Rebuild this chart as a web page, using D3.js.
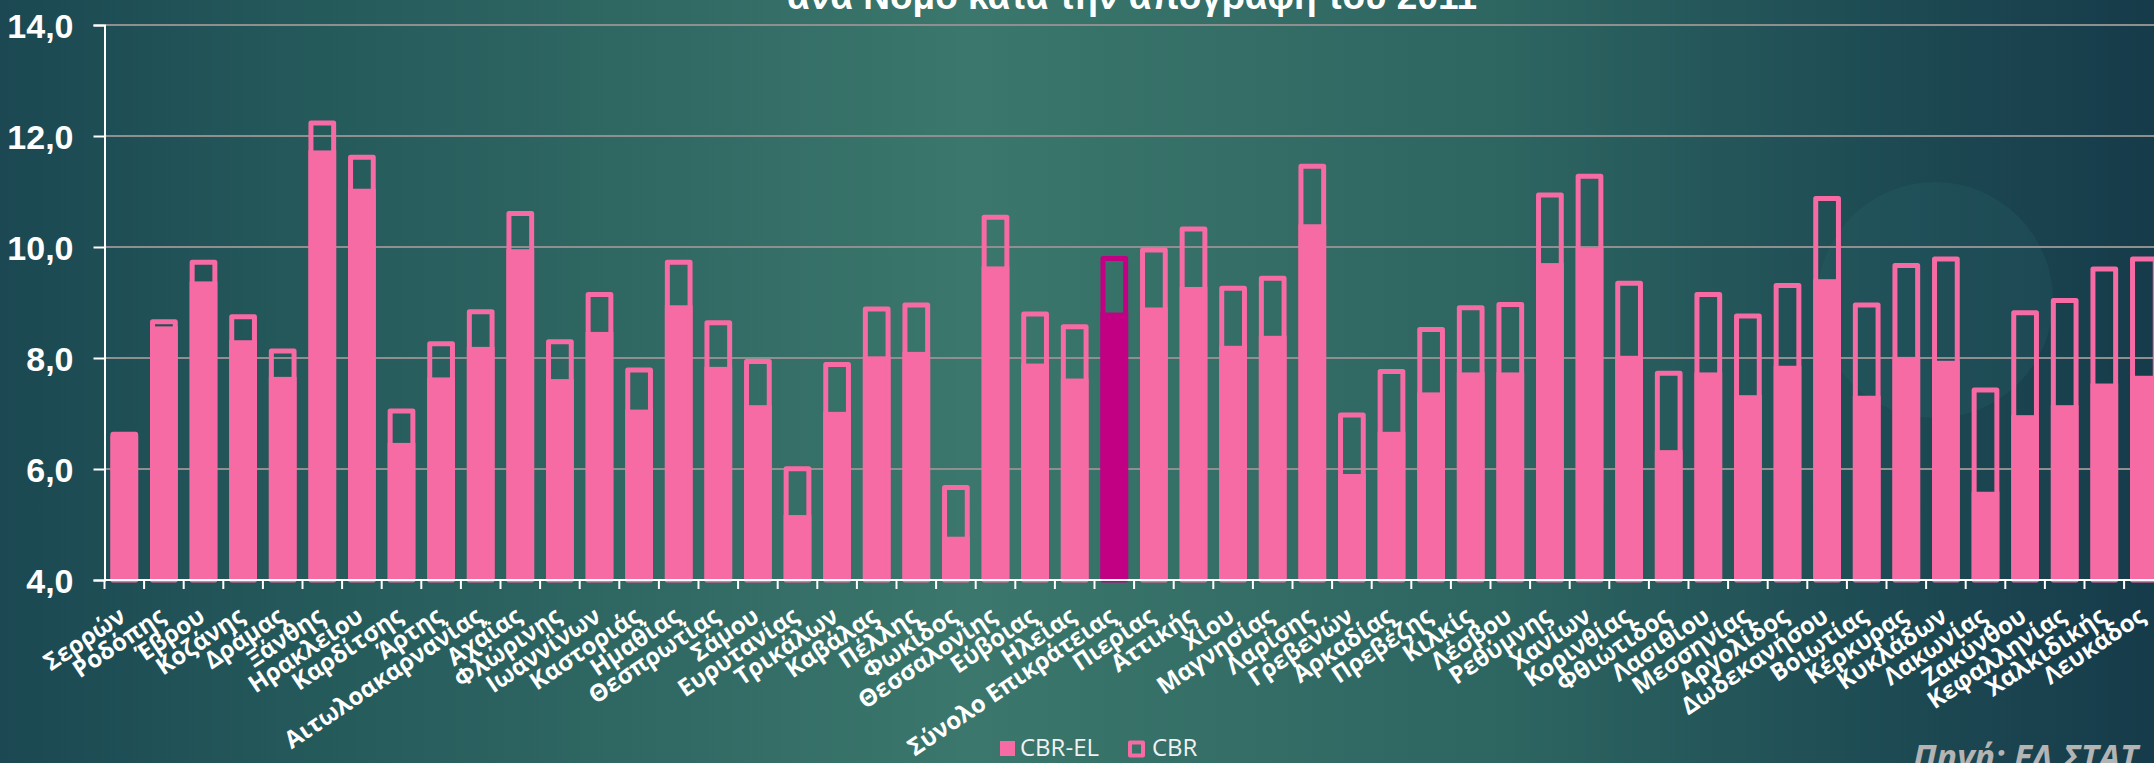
<!DOCTYPE html>
<html>
<head>
<meta charset="utf-8">
<script src="https://cdn.jsdelivr.net/npm/d3@7"></script>
<style>
  html, body { margin: 0; padding: 0; overflow: hidden; background: #1b4852; }
  svg { display: block; }
</style>
</head>
<body>
<div id="chart"></div>
<script>
// crude birth rate per prefecture, census 2011

const prefectures = [
    "Σερρών", "Ροδόπης", "Έβρου", "Κοζάνης", "Δράμας", "Ξάνθης", "Ηρακλείου", "Καρδίτσης",
    "Άρτης", "Αιτωλοακαρνανίας", "Αχαΐας", "Φλώρινης", "Ιωαννίνων", "Καστοριάς", "Ημαθίας",
    "Θεσπρωτίας", "Σάμου", "Ευρυτανίας", "Τρικάλων", "Καβάλας", "Πέλλης", "Φωκίδος",
    "Θεσσαλονίης", "Εύβοιας", "Ηλείας", "Σύνολο Επικράτειας", "Πιερίας", "Αττικής", "Χίου",
    "Μαγνησίας", "Λαρίσης", "Γρεβενών", "Αρκαδίας", "Πρεβέζης", "Κιλκίς", "Λέσβου",
    "Ρεθύμνης", "Χανίων", "Κορινθίας", "Φθιώτιδος", "Λασιθίου", "Μεσσηνίας", "Αργολίδος",
    "Δωδεκανήσου", "Βοιωτίας", "Κέρκυρας", "Κυκλάδων", "Λακωνίας", "Ζακύνθου",
    "Κεφαλληνίας", "Χαλκιδικής", "Λευκάδος"
];

const cbrEl = [
    6.60, 8.57, 9.38, 8.32, 7.66, 11.74, 11.05, 6.47,
    7.65, 8.20, 9.96, 7.62, 8.47, 7.07, 8.95,
    7.84, 7.15, 5.17, 7.03, 8.03, 8.11, 4.78,
    9.65, 7.90, 7.63, 8.82, 8.91, 9.28, 8.22,
    8.40, 10.41, 5.91, 6.67, 7.38, 7.74, 7.74,
    9.71, 9.99, 8.04, 6.34, 7.74, 7.33, 7.86,
    9.42, 7.32, 8.02, 7.95, 5.59, 6.97,
    7.15, 7.54, 7.68
];

const cbr = [
    6.67, 8.70, 9.77, 8.79, 8.17, 12.28, 11.66, 7.09,
    8.30, 8.88, 10.65, 8.34, 9.19, 7.83, 9.77,
    8.68, 7.98, 6.05, 7.93, 8.93, 9.00, 5.71,
    10.58, 8.84, 8.61, 9.84, 9.99, 10.37, 9.30,
    9.48, 11.50, 7.02, 7.80, 8.56, 8.95, 9.01,
    10.98, 11.32, 9.39, 7.77, 9.19, 8.80, 9.35,
    10.92, 9.00, 9.71, 9.83, 7.47, 8.86,
    9.08, 9.65, 9.83
];

const yTicks = [4, 6, 8, 10, 12, 14];
const seriesNames = ["CBR-EL", "CBR"];
const totalName = "Σύνολο Επικράτειας";
const titleText = "ανά Νομό κατά την απογραφή του 2011";
const sourceText = "Πηγή: ΕΛ.ΣΤΑΤ";

const width = 2154;
const height = 763;
const plotLeft = 104.5;
const bandStep = 39.6;
const plotTop = 25;
const plotBottom = 580;
const outlineWidth = 5;

const pink = "#f76ba4";
const magenta = "#c20084";

const locale = d3.formatLocale({ decimal: ",", thousands: ".", grouping: [3], currency: ["", "€"] });
const fmt = locale.format(".1f");

const data = prefectures.map((name, i) => ({ name: name, el: cbrEl[i], cbr: cbr[i] }));

const svg = d3.select("#chart")
    .append("svg")
    .attr("width", width)
    .attr("height", height);

const defs = svg.append("defs");
const bg = defs.append("linearGradient")
    .attr("id", "bg")
    .attr("x1", "0%").attr("x2", "100%")
    .attr("y1", "0%").attr("y2", "0%");
[
    [0, "#1b4852"], [0.15, "#255a5b"], [0.45, "#3b776c"],
    [0.7, "#2d6561"], [0.88, "#1d4a53"], [1, "#163b4a"]
].forEach(([o, c]) => bg.append("stop").attr("offset", o).attr("stop-color", c));

svg.append("rect")
    .attr("width", width)
    .attr("height", height)
    .attr("fill", "url(#bg)");

// faint decorative disc at the right
svg.append("circle")
    .attr("cx", 1935)
    .attr("cy", 300)
    .attr("r", 118)
    .attr("fill", "#2f6a6c")
    .attr("opacity", 0.22);

const x = d3.scaleBand()
    .domain(prefectures)
    .range([plotLeft, plotLeft + bandStep * prefectures.length])
    .paddingInner(0.3)
    .paddingOuter(0.15);

const y = d3.scaleLinear()
    .domain([4, 14])
    .range([plotBottom, plotTop]);

// gridlines
svg.append("g")
    .selectAll("line")
    .data(yTicks.slice(1))
    .enter()
    .append("line")
    .attr("x1", plotLeft)
    .attr("x2", width)
    .attr("y1", d => y(d))
    .attr("y2", d => y(d))
    .attr("stroke", "#8f8f8f")
    .attr("stroke-width", 2);

// CBR-EL filled bars
svg.append("g")
    .selectAll("rect")
    .data(data)
    .enter()
    .append("rect")
    .attr("x", d => x(d.name))
    .attr("y", d => y(d.el))
    .attr("width", x.bandwidth())
    .attr("height", d => y(4) - y(d.el))
    .attr("fill", d => d.name === totalName ? magenta : pink);

// CBR outlined bars on top
svg.append("g")
    .selectAll("rect")
    .data(data)
    .enter()
    .append("rect")
    .attr("x", d => x(d.name) + outlineWidth / 2)
    .attr("y", d => y(d.cbr) + outlineWidth / 2)
    .attr("width", x.bandwidth() - outlineWidth)
    .attr("height", d => y(4) - y(d.cbr) - outlineWidth / 2)
    .attr("fill", "none")
    .attr("stroke", d => d.name === totalName ? magenta : pink)
    .attr("stroke-width", outlineWidth)
    .attr("stroke-linejoin", "round");

// y axis
const yAxis = svg.append("g")
    .attr("transform", `translate(${plotLeft},0)`)
    .call(d3.axisLeft(y).tickValues(yTicks).tickFormat(fmt).tickSize(11).tickPadding(20));
yAxis.select(".domain").attr("stroke", "#ffffff").attr("stroke-width", 2);
yAxis.selectAll(".tick line").attr("stroke", "#ffffff").attr("stroke-width", 2);
yAxis.selectAll(".tick text")
    .attr("fill", "#ffffff")
    .attr("font-family", "'Liberation Sans Narrow', 'Liberation Sans', Arial, sans-serif")
    .attr("font-weight", "bold")
    .attr("font-size", 34)
    .attr("dy", "0.36em");

// x axis: line plus ticks at band boundaries
const xAxis = svg.append("g");
xAxis.append("line")
    .attr("x1", plotLeft)
    .attr("x2", x.range()[1])
    .attr("y1", y(4))
    .attr("y2", y(4))
    .attr("stroke", "#ffffff")
    .attr("stroke-width", 2);

const boundaries = prefectures.map(p => x(p) - x.paddingOuter() * x.step()).concat([x.range()[1]]);
xAxis.selectAll(".xtick")
    .data(boundaries)
    .enter()
    .append("line")
    .attr("class", "xtick")
    .attr("x1", d => d)
    .attr("x2", d => d)
    .attr("y1", y(4))
    .attr("y2", y(4) + 9)
    .attr("stroke", "#ffffff")
    .attr("stroke-width", 2);

xAxis.selectAll(".xlabel")
    .data(prefectures)
    .enter()
    .append("text")
    .attr("class", "xlabel")
    .attr("transform", d => `translate(${x(d) + x.bandwidth() / 2 + 3},620) rotate(-34)`)
    .attr("text-anchor", "end")
    .attr("fill", "#ffffff")
    .attr("font-family", "'Open Sans', 'Noto Sans', sans-serif")
    .attr("font-weight", "bold")
    .attr("font-size", 24)
    .text(d => d);

// title (cut at the top edge)
svg.append("text")
    .attr("x", 1132)
    .attr("y", 9)
    .attr("text-anchor", "middle")
    .attr("fill", "#ffffff")
    .attr("font-family", "'Liberation Sans', Arial, sans-serif")
    .attr("font-weight", "bold")
    .attr("font-size", 37)
    .text(titleText);

// legend
const legend = svg.append("g").attr("transform", "translate(1000,741)");
legend.append("rect")
    .attr("x", 0).attr("y", 0)
    .attr("width", 15).attr("height", 15)
    .attr("fill", pink);
legend.append("text")
    .attr("x", 20).attr("y", 15)
    .attr("fill", "#f2f2f2")
    .attr("font-family", "'Open Sans', 'Noto Sans', sans-serif")
    .attr("font-size", 24)
    .text(seriesNames[0]);
legend.append("rect")
    .attr("x", 130).attr("y", 1.5)
    .attr("width", 13).attr("height", 13)
    .attr("fill", "none")
    .attr("stroke", pink)
    .attr("stroke-width", 4)
    .attr("stroke-linejoin", "round");
legend.append("text")
    .attr("x", 152).attr("y", 15)
    .attr("fill", "#f2f2f2")
    .attr("font-family", "'Open Sans', 'Noto Sans', sans-serif")
    .attr("font-size", 24)
    .text(seriesNames[1]);

// source note, runs off the corner as in the original slide
svg.append("text")
    .attr("x", 1913)
    .attr("y", 769)
    .attr("fill", "#b4b4b4")
    .attr("font-family", "'Open Sans', 'Noto Sans', sans-serif")
    .attr("font-weight", "bold")
    .attr("font-style", "italic")
    .attr("font-size", 34)
    .text(sourceText);
</script>
</body>
</html>
